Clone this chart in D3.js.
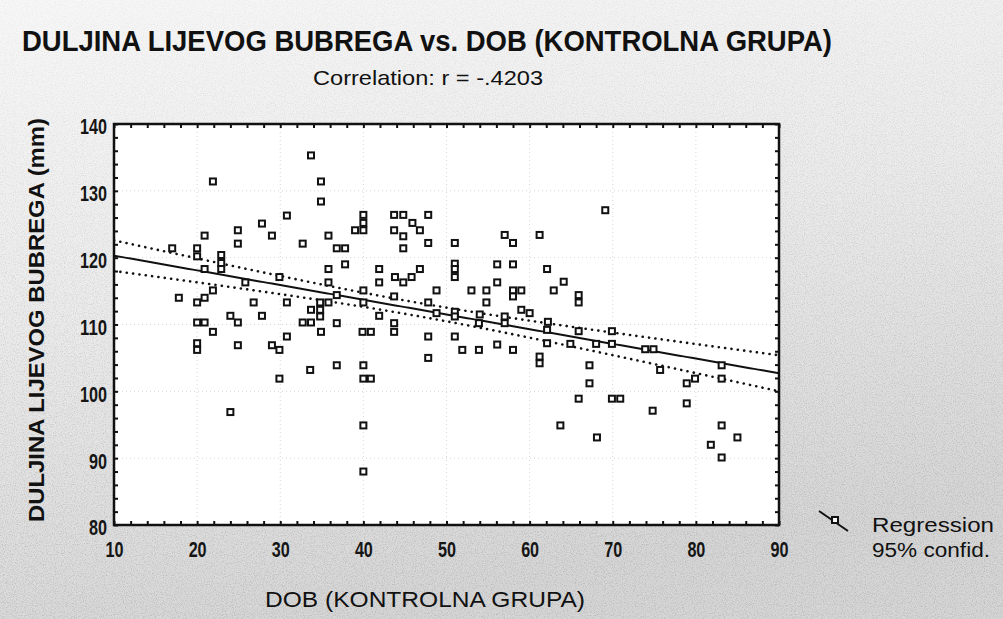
<!DOCTYPE html>
<html>
<head>
<meta charset="utf-8">
<script src="https://cdn.jsdelivr.net/npm/d3@7"></script>
<style>
  html, body { margin: 0; padding: 0; background: #ececec; }
  svg { display: block; }
  .lbl { font-family: "Liberation Sans", Arial, sans-serif; }
</style>
</head>
<body>
<svg id="chart" width="1003" height="619"></svg>
<script>
// Each subject: [age (years), left kidney length (mm)]
const subjects = [
  [17.0,121.4],[17.8,114.0],[20.0,121.4],[20.0,120.2],[20.9,118.3],[20.9,123.3],[21.9,131.4],
  [22.9,120.4],[22.9,119.2],[22.9,118.3],[21.9,115.1],[20.9,114.0],[20.0,113.3],[20.0,110.3],
  [20.9,110.3],[21.9,108.9],[20.0,107.2],[20.0,106.2],[24.0,111.3],[24.9,110.3],[24.9,106.9],
  [24.0,96.9],[24.9,124.1],[24.9,122.1],[25.8,116.3],[26.8,113.3],[27.8,125.1],[27.8,111.3],
  [29.0,123.3],[29.9,117.1],[30.8,126.3],[30.8,113.3],[30.8,108.2],[29.0,106.9],[29.9,106.2],
  [29.9,101.9],[32.7,122.1],[32.7,110.3],[33.7,110.3],[33.7,112.2],[33.7,135.3],[33.6,103.2],
  [34.9,131.4],[34.9,128.4],[34.8,113.3],[34.8,112.2],[34.8,111.2],[34.9,108.9],[35.8,123.3],
  [35.8,118.3],[35.8,116.3],[35.8,113.3],[36.8,121.4],[37.8,121.4],[36.8,114.4],[36.8,110.2],
  [36.8,103.9],[37.8,119.0],[39.0,124.1],[40.0,126.4],[40.0,125.2],[40.0,124.1],[40.0,115.1],
  [40.0,113.3],[39.9,108.9],[40.9,108.9],[40.0,103.9],[40.0,101.9],[40.9,101.9],[40.0,94.9],
  [40.0,88.0],[41.9,118.3],[41.9,116.3],[41.9,111.3],[43.7,126.4],[44.8,126.4],[45.9,125.2],
  [47.8,126.4],[43.7,124.1],[44.8,123.2],[46.8,124.1],[44.8,121.4],[47.8,122.2],[43.8,117.1],
  [44.8,116.3],[45.8,117.1],[46.8,118.3],[43.7,114.2],[43.7,110.2],[43.7,108.9],[47.8,113.3],
  [48.8,115.1],[48.8,111.7],[47.8,108.2],[47.8,105.0],[51.0,122.2],[51.0,119.1],[51.0,118.3],
  [51.0,117.1],[51.0,111.9],[51.0,111.2],[51.0,108.2],[51.9,106.2],[53.0,115.1],[53.9,106.2],
  [54.0,111.5],[53.9,110.2],[54.8,115.1],[54.8,113.3],[56.1,119.0],[56.1,116.3],[56.1,107.0],
  [57.0,123.4],[58.0,122.2],[58.0,119.0],[58.0,115.1],[59.0,115.1],[58.0,114.2],[57.0,111.2],
  [57.0,110.2],[58.0,106.2],[59.0,112.2],[60.0,111.7],[61.2,123.4],[62.1,118.3],[62.9,115.1],
  [64.1,116.4],[62.2,110.4],[62.1,109.2],[62.1,107.2],[61.2,105.2],[61.2,104.2],[65.9,114.4],
  [65.9,113.3],[65.9,109.0],[64.9,107.1],[63.7,94.9],[69.1,127.1],[69.9,109.0],[68.0,107.1],
  [69.9,107.1],[67.2,103.9],[67.2,101.2],[65.9,98.9],[69.9,98.9],[70.9,98.9],[68.1,93.1],
  [73.9,106.3],[74.9,106.3],[75.7,103.2],[74.8,97.1],[78.9,101.2],[79.9,101.9],[78.9,98.2],
  [83.1,103.9],[83.1,101.9],[83.1,94.9],[81.8,92.0],[83.1,90.1],[85.0,93.1]
];

// Fitted regression (length = intercept + slope * age)
const regressionFit = { intercept: 122.5, slope: -0.22 };
// 95% confidence band: narrowest half-width at the mean age, widening away from it
const confidenceBand = { meanAge: 46.2, minHalfWidth: 1.0, spread: 0.057 };

const xTicks = [10, 20, 30, 40, 50, 60, 70, 80, 90];
const yTicks = [80, 90, 100, 110, 120, 130, 140];
const xMinorTicks = d3.range(10, 91, 2);
const yMinorTicks = d3.range(80, 141, 2);

const titleText = "DULJINA LIJEVOG BUBREGA vs. DOB (KONTROLNA GRUPA)";
const subtitleText = "Correlation: r = -.4203";
const xAxisTitle = "DOB (KONTROLNA GRUPA)";
const yAxisTitle = "DULJINA LIJEVOG BUBREGA (mm)";
const legendLabels = ["Regression", "95% confid."];

// Plot frame
const plot = { left: 114, right: 779, top: 124, bottom: 525 };

const svg = d3.select("#chart");
const W = 1003, H = 619;

const x = d3.scaleLinear().domain([10, 90]).range([plot.left, plot.right]);
const y = d3.scaleLinear().domain([80, 140]).range([plot.bottom, plot.top]);

// ---- background: pale paper with grain ----
const defs = svg.append("defs");
const bgGrad = defs.append("linearGradient").attr("id", "paper").attr("x1", 0).attr("y1", 0).attr("x2", 0.3).attr("y2", 1);
bgGrad.append("stop").attr("offset", "0%").attr("stop-color", "#f7f7f7");
bgGrad.append("stop").attr("offset", "50%").attr("stop-color", "#ebebeb");
bgGrad.append("stop").attr("offset", "100%").attr("stop-color", "#d6d6d6");

const grain = defs.append("filter").attr("id", "grain").attr("x", 0).attr("y", 0).attr("width", "100%").attr("height", "100%");
grain.append("feTurbulence").attr("type", "fractalNoise").attr("baseFrequency", 0.9).attr("numOctaves", 2).attr("seed", 3).attr("result", "n");
grain.append("feColorMatrix").attr("in", "n").attr("type", "matrix")
  .attr("values", "0 0 0 0 0.4  0 0 0 0 0.4  0 0 0 0 0.4  0 0 0 -2.4 1.35");

const grainFade = defs.append("linearGradient").attr("id", "grainFade").attr("x1", 0).attr("y1", 0).attr("x2", 0.2).attr("y2", 1);
grainFade.append("stop").attr("offset", "0%").attr("stop-color", "#fff").attr("stop-opacity", 0.2);
grainFade.append("stop").attr("offset", "100%").attr("stop-color", "#fff").attr("stop-opacity", 1);
defs.append("mask").attr("id", "fadeMask").append("rect")
  .attr("width", W).attr("height", H).attr("fill", "url(#grainFade)");

svg.append("rect").attr("width", W).attr("height", H).attr("fill", "url(#paper)");
svg.append("rect").attr("width", W).attr("height", H).attr("filter", "url(#grain)")
  .attr("mask", "url(#fadeMask)").attr("opacity", 0.65);

// ---- plot area ----
svg.append("rect")
  .attr("x", plot.left).attr("y", plot.top)
  .attr("width", plot.right - plot.left).attr("height", plot.bottom - plot.top)
  .attr("fill", "#ffffff");

// faint dotted grid at major ticks
const grid = svg.append("g").attr("stroke", "#d6d6d6").attr("stroke-width", 1).attr("stroke-dasharray", "1,3");
grid.selectAll("line.gx").data(xTicks.slice(1, -1)).join("line")
  .attr("x1", d => x(d)).attr("x2", d => x(d)).attr("y1", plot.top).attr("y2", plot.bottom);
grid.selectAll("line.gy").data(yTicks.slice(1, -1)).join("line")
  .attr("y1", d => y(d)).attr("y2", d => y(d)).attr("x1", plot.left).attr("x2", plot.right);

// ---- regression line and 95% confidence band ----
const ageSpan = d3.range(10, 90.01, 0.5);
const predict = a => regressionFit.intercept + regressionFit.slope * a;
const halfWidth = a => Math.hypot(confidenceBand.minHalfWidth, confidenceBand.spread * (a - confidenceBand.meanAge));
const fit = ageSpan.map(a => [a, predict(a)]);
const upper = ageSpan.map(a => [a, predict(a) + halfWidth(a)]);
const lower = ageSpan.map(a => [a, predict(a) - halfWidth(a)]);

const line = d3.line().x(d => x(d[0])).y(d => y(d[1]));
defs.append("clipPath").attr("id", "plotClip").append("rect")
  .attr("x", plot.left).attr("y", plot.top)
  .attr("width", plot.right - plot.left).attr("height", plot.bottom - plot.top);

const fitG = svg.append("g").attr("clip-path", "url(#plotClip)");
fitG.append("path").datum(fit).attr("d", line)
  .attr("fill", "none").attr("stroke", "#111").attr("stroke-width", 2);
[upper, lower].forEach(band => {
  fitG.append("path").datum(band).attr("d", line)
    .attr("fill", "none").attr("stroke", "#111").attr("stroke-width", 2.6)
    .attr("stroke-linecap", "round").attr("stroke-dasharray", "0.1,6.3");
});

// ---- data points: open squares ----
const sq = 6;
svg.append("g").selectAll("rect").data(subjects).join("rect")
  .attr("x", d => x(d[0]) - sq / 2).attr("y", d => y(d[1]) - sq / 2)
  .attr("width", sq).attr("height", sq)
  .attr("fill", "#fff").attr("stroke", "#111").attr("stroke-width", 2);

// ---- frame and inward ticks on all four sides ----
const tickStyle = g => {
  g.select(".domain").remove();
  g.selectAll(".tick line").attr("stroke", "#111").attr("stroke-width", 2);
  g.selectAll(".tick text").remove();
};
svg.append("g").attr("transform", `translate(0,${plot.bottom})`)
  .call(d3.axisBottom(x).tickValues(xMinorTicks).tickSize(-4)).call(tickStyle);
svg.append("g").attr("transform", `translate(0,${plot.top})`)
  .call(d3.axisTop(x).tickValues(xMinorTicks).tickSize(-4)).call(tickStyle);
svg.append("g").attr("transform", `translate(${plot.left},0)`)
  .call(d3.axisLeft(y).tickValues(yMinorTicks).tickSize(-4)).call(tickStyle);
svg.append("g").attr("transform", `translate(${plot.right},0)`)
  .call(d3.axisRight(y).tickValues(yMinorTicks).tickSize(-4)).call(tickStyle);

svg.append("rect")
  .attr("x", plot.left).attr("y", plot.top)
  .attr("width", plot.right - plot.left).attr("height", plot.bottom - plot.top)
  .attr("fill", "none").attr("stroke", "#111").attr("stroke-width", 2.5);

// ---- tick labels (bold, condensed) ----
const labelStyle = g => {
  g.select(".domain").remove();
  g.selectAll(".tick line").remove();
  g.selectAll(".tick text")
    .attr("class", "lbl")
    .attr("font-size", 22).attr("font-weight", "bold").attr("fill", "#151515")
    .attr("textLength", function () { return this.textContent.length * 9; })
    .attr("lengthAdjust", "spacingAndGlyphs");
};
svg.append("g").attr("transform", `translate(0,${plot.bottom})`)
  .call(d3.axisBottom(x).tickValues(xTicks).tickSize(0).tickPadding(16).tickFormat(d3.format("d")))
  .call(labelStyle);
svg.append("g").attr("transform", `translate(${plot.left},0)`)
  .call(d3.axisLeft(y).tickValues(yTicks).tickSize(0).tickPadding(7).tickFormat(d3.format("d")))
  .call(labelStyle)
  .selectAll(".tick text").attr("dy", "0.45em");

// ---- titles ----
svg.append("text").attr("class", "lbl")
  .attr("x", 22).attr("y", 51)
  .attr("font-size", 30).attr("font-weight", "bold").attr("fill", "#111")
  .attr("textLength", 810).attr("lengthAdjust", "spacingAndGlyphs")
  .text(titleText);

svg.append("text").attr("class", "lbl")
  .attr("x", 428).attr("y", 85).attr("text-anchor", "middle")
  .attr("font-size", 21).attr("fill", "#111")
  .attr("textLength", 230).attr("lengthAdjust", "spacingAndGlyphs")
  .text(subtitleText);

svg.append("text").attr("class", "lbl")
  .attr("x", 425).attr("y", 607).attr("text-anchor", "middle")
  .attr("font-size", 22).attr("fill", "#111")
  .attr("textLength", 320).attr("lengthAdjust", "spacingAndGlyphs")
  .text(xAxisTitle);

svg.append("text").attr("class", "lbl")
  .attr("transform", `translate(44,320) rotate(-90)`).attr("text-anchor", "middle")
  .attr("font-size", 22).attr("font-weight", "bold").attr("fill", "#111")
  .attr("textLength", 404).attr("lengthAdjust", "spacingAndGlyphs")
  .text(yAxisTitle);

// ---- legend ----
const lg = svg.append("g");
lg.append("line").attr("x1", 819).attr("y1", 511).attr("x2", 848).attr("y2", 531)
  .attr("stroke", "#111").attr("stroke-width", 2);
lg.append("rect").attr("x", 832).attr("y", 517).attr("width", 6).attr("height", 6)
  .attr("fill", "#fff").attr("stroke", "#111").attr("stroke-width", 2);
const legendWidths = [122, 118];
lg.selectAll("text").data(legendLabels).join("text").attr("class", "lbl")
  .attr("x", 872).attr("y", (d, i) => 532 + i * 25)
  .attr("font-size", 20).attr("fill", "#111")
  .attr("textLength", (d, i) => legendWidths[i]).attr("lengthAdjust", "spacingAndGlyphs")
  .text(d => d);
</script>
</body>
</html>
